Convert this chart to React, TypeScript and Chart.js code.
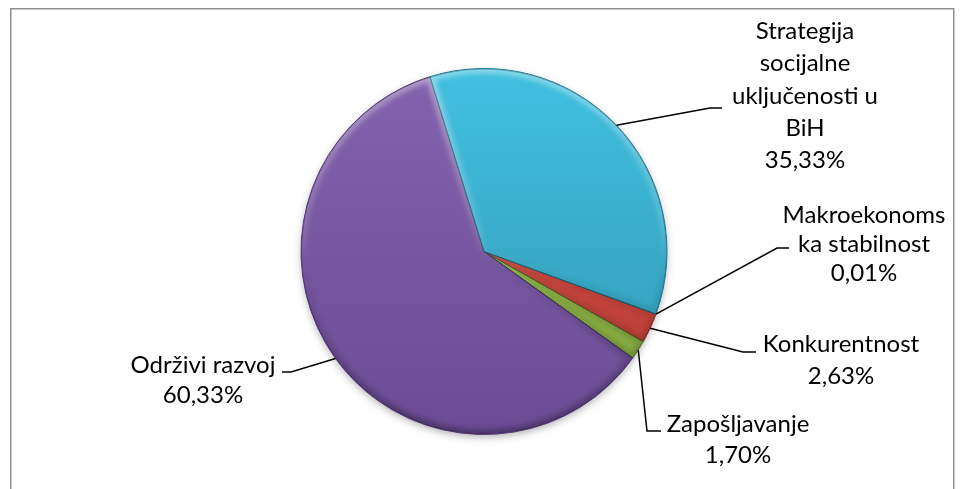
import React, { useEffect, useRef } from "react";
import { Chart, registerables } from "chart.js";

Chart.register(...registerables);

// Data in the order Excel stored it (clockwise from the first-slice angle)
const categories = [
  "Makroekonomska stabilnost",
  "Konkurentnost",
  "Zapošljavanje",
  "Održivi razvoj",
  "Strategija socijalne uključenosti u BiH",
];
// Label text broken into lines as shown in the picture
const labelLines = [
  ["Makroekonoms", "ka stabilnost"],
  ["Konkurentnost"],
  ["Zapošljavanje"],
  ["Održivi razvoj"],
  ["Strategija", "socijalne", "uključenosti u", "BiH"],
];
const shares = [0.01, 2.63, 1.7, 60.33, 35.33];

const topColors = ["#5B8FD0", "#DA5448", "#9CC652", "#8363AD", "#42C0E0"];
const bottomColors = ["#3F6CA6", "#B43A33", "#7FA23C", "#6B4B94", "#2F97B3"];
const edgeColors = ["#35598a", "#8f2c27", "#5f7a2c", "#54397a", "#217a92"];

// label layout (elbow of leader, end of leader, text centre x, first baseline, line step)
const labelLayout = [
  { elbow: [777, 248], end: [789, 248], cx: 864, base: 223, step: 29 },
  { elbow: [743, 352], end: [756, 352], cx: 841, base: 352, step: 32 },
  { elbow: [647, 431], end: [661, 431], cx: 738, base: 432, step: 31 },
  { elbow: [291, 372], end: [282, 372], cx: 203, base: 373, step: 30 },
  { elbow: [710, 108], end: [722, 108], cx: 805, base: 39, step: 32.25 },
];

const fmt = (v: number) => v.toFixed(2).replace(".", ",") + "%";

const framePlugin = {
  id: "frame",
  beforeDraw(chart: any) {
    const ctx = chart.ctx;
    ctx.save();
    ctx.fillStyle = "#ffffff";
    ctx.fillRect(0, 0, chart.width, chart.height);
    ctx.strokeStyle = "#8f8f8f";
    ctx.lineWidth = 1.5;
    ctx.strokeRect(10.75, 8.75, 943, 520);
    ctx.restore();
  },
  beforeDatasetsDraw(chart: any) {
    const meta = chart.getDatasetMeta(0);
    const arc = meta.data[0];
    if (!arc) return;
    const p = arc.getProps(["x", "y", "outerRadius"], true);
    const ctx = chart.ctx;
    ctx.save();
    ctx.shadowColor = "rgba(0,0,0,0.35)";
    ctx.shadowBlur = 9;
    ctx.shadowOffsetY = 3;
    ctx.fillStyle = "#6C4C95";
    ctx.beginPath();
    ctx.arc(p.x, p.y, p.outerRadius - 1, 0, Math.PI * 2);
    ctx.fill();
    ctx.restore();
  },
};

const bevelPlugin = {
  id: "bevel",
  afterDatasetsDraw(chart: any) {
    const ctx = chart.ctx;
    const meta = chart.getDatasetMeta(0);
    meta.data.forEach((arc: any) => {
      const p = arc.getProps(["x", "y", "startAngle", "endAngle", "outerRadius"], true);
      if (p.endAngle - p.startAngle < 0.002) return;
      const path = new Path2D();
      path.moveTo(p.x, p.y);
      path.arc(p.x, p.y, p.outerRadius - 0.5, p.startAngle, p.endAngle);
      path.closePath();
      ctx.save();
      ctx.clip(path);
      ctx.filter = "blur(2.5px)";
      const g = ctx.createLinearGradient(0, p.y - p.outerRadius, 0, p.y + p.outerRadius);
      g.addColorStop(0, "rgba(255,255,255,0.38)");
      g.addColorStop(0.45, "rgba(255,255,255,0.12)");
      g.addColorStop(0.6, "rgba(0,0,0,0.06)");
      g.addColorStop(1, "rgba(0,0,0,0.28)");
      ctx.strokeStyle = g;
      ctx.lineWidth = 9;
      ctx.lineJoin = "round";
      ctx.stroke(path);
      ctx.filter = "none";
      ctx.strokeStyle = "rgba(0,0,0,0.25)";
      ctx.lineWidth = 1;
      ctx.stroke(path);
      ctx.restore();
    });
  },
};

const labelPlugin = {
  id: "outerLabels",
  afterDatasetsDraw(chart: any) {
    const ctx = chart.ctx;
    const meta = chart.getDatasetMeta(0);
    ctx.save();
    meta.data.forEach((arc: any, i: number) => {
      const p = arc.getProps(["x", "y", "startAngle", "endAngle", "outerRadius"], true);
      const mid = (p.startAngle + p.endAngle) / 2;
      const ax = p.x + Math.cos(mid) * p.outerRadius;
      const ay = p.y + Math.sin(mid) * p.outerRadius;
      const L = labelLayout[i];
      ctx.strokeStyle = "#000000";
      ctx.lineWidth = 1.5;
      ctx.beginPath();
      ctx.moveTo(ax, ay);
      ctx.lineTo(L.elbow[0], L.elbow[1]);
      ctx.lineTo(L.end[0], L.end[1]);
      ctx.stroke();

      ctx.fillStyle = "#000000";
      ctx.font = "24px Lato";
      ctx.textAlign = "center";
      ctx.textBaseline = "alphabetic";
      const lines = [...labelLines[i], fmt(shares[i])];
      lines.forEach((t, k) => {
        ctx.fillText(t, L.cx, L.base + k * L.step);
      });
    });
    ctx.restore();
  },
};

export default function App() {
  const ref = useRef<HTMLCanvasElement | null>(null);
  useEffect(() => {
    if (!ref.current) return;
    const chart = new Chart(ref.current, {
      type: "pie",
      data: {
        labels: categories,
        datasets: [
          {
            data: shares,
            backgroundColor: (c: any) => {
              const chart = c.chart;
              const area = chart.chartArea;
              const i = c.dataIndex;
              if (!area) return topColors[i];
              const g = chart.ctx.createLinearGradient(0, area.top, 0, area.bottom);
              g.addColorStop(0, topColors[i]);
              g.addColorStop(1, bottomColors[i]);
              return g;
            },
            borderColor: edgeColors,
            borderWidth: 1,
            hoverOffset: 0,
          },
        ],
      },
      options: {
        responsive: false,
        animation: false,
        rotation: 110,
        layout: { padding: { left: 300.5, right: 294.5, top: 68, bottom: 54 } },
        plugins: {
          legend: { display: false },
          tooltip: { enabled: false },
        },
        events: [],
      },
      plugins: [framePlugin, bevelPlugin, labelPlugin],
    });
    return () => chart.destroy();
  }, []);
  return (
    <canvas
      ref={ref}
      width={962}
      height={489}
      style={{ position: "fixed", left: 0, top: 0, display: "block" }}
    />
  );
}
